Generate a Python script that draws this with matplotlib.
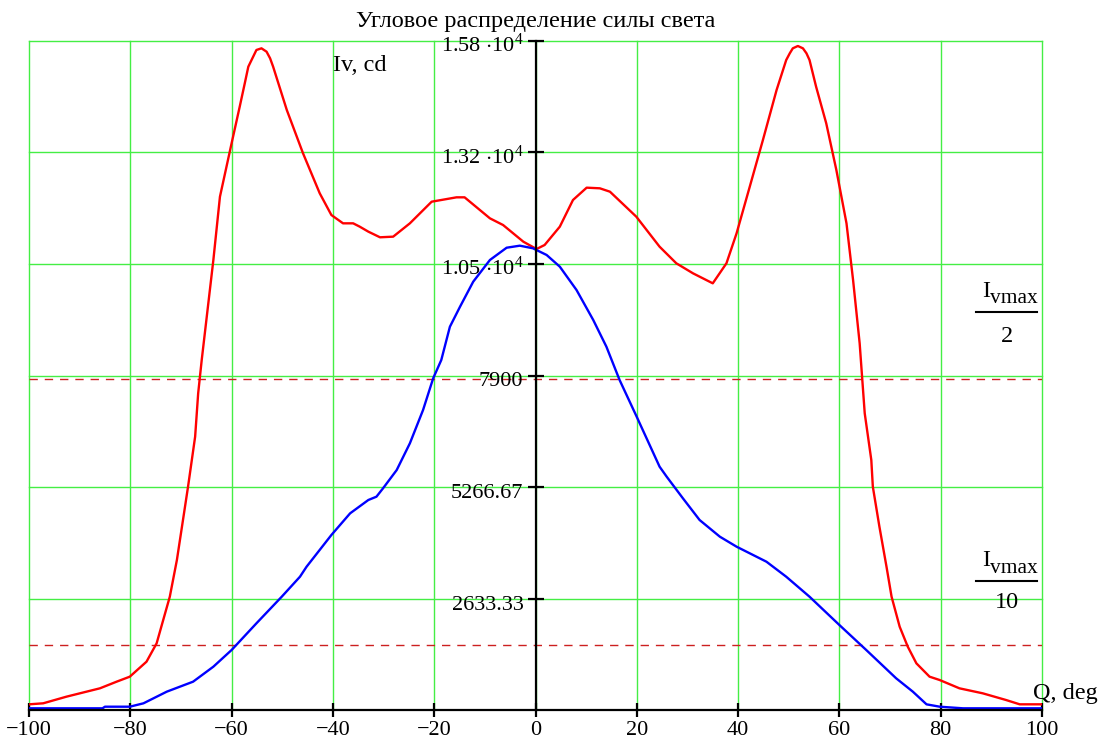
import matplotlib
matplotlib.use("Agg")
import matplotlib.pyplot as plt
from matplotlib.lines import Line2D
from matplotlib.transforms import ScaledTranslation

# ---------------- data ----------------
red_deg = [-100, -97.2, -92.6, -86.0, -82.7, -80.1, -76.8, -74.8, -73.5, -72.2, -70.8, -69.5,
           -68.6, -67.2, -66.6, -65.9, -63.6, -62.3, -60.0, -58.4, -57.4, -56.7, -55.1, -54.1,
           -53.1, -52.4, -51.8, -49.1,
           -45.9, -42.6, -40.3, -38.0, -36.0, -34.7, -33.0, -30.7, -28.1, -24.8, -20.5, -15.6,
           -14.0, -9.0, -6.4, -2.4, 0.2, 1.8, 4.8, 7.4, 10.1, 12.7, 14.7, 19.9, 24.5, 27.8,
           31.1, 35.0, 37.7, 39.7, 42.3, 44.9, 47.6, 49.5, 50.2, 50.8, 51.8, 52.8, 53.5, 54.1,
           55.4, 57.4, 59.4, 61.4,
           62.7, 64.0, 65.0, 66.3, 66.6, 67.9, 69.3, 70.3, 71.9, 73.5, 75.2, 77.8, 79.8, 83.7,
           88.3, 92.9, 95.6, 100]
red_cd = [134, 158, 315, 512, 669, 787, 1141, 1575, 2126, 2676, 3543, 4565,
          5274, 6455, 7479, 8266, 10628, 12123, 13384, 14248, 14800, 15193, 15588, 15627,
          15548, 15391, 15193, 14170,
          13148, 12203, 11690, 11494, 11494, 11415, 11297, 11164, 11179, 11494, 12005, 12108,
          12108, 11612, 11454, 11060, 10887, 10982, 11415, 12045, 12336, 12321, 12241, 11651, 10942, 10550,
          10313, 10077, 10550, 11258, 12359, 13462, 14643, 15351, 15509, 15627, 15682, 15627, 15509, 15351,
          14721, 13856, 12753, 11494,
          10155, 8660, 7007, 5904, 5274, 4329, 3384, 2676, 1967, 1495, 1102, 787, 708, 512,
          394, 236, 134, 134]

blue_deg = [-100, -85.5, -85.0, -80.1, -77.4, -72.8, -67.6, -63.6, -60.0, -55.1, -50.1, -46.5,
            -45.2, -40.3, -36.6, -33.0, -31.4, -30.1, -27.4, -24.8, -22.2, -20.2, -18.6, -16.9,
            -14.9, -12.3, -9.0, -5.7, -3.1, -0.5, 2.2, 4.8, 8.1, 11.4, 14.0, 16.6, 19.9, 24.5,
            25.9, 29.1, 32.4, 36.4, 39.7, 45.6, 49.5, 54.1, 60.0, 65.3, 71.2, 74.5, 77.2, 79.8,
            84.4, 100]
blue_cd = [40, 40, 78, 78, 158, 433, 669, 1023, 1417, 2047, 2676, 3148,
           3384, 4133, 4645, 4960, 5038, 5236, 5668, 6299, 7085, 7834, 8266, 9052,
           9525, 10115, 10628, 10918, 10966, 10904, 10746, 10470, 9919, 9211, 8580, 7794, 6947, 5746,
           5510, 5000, 4487, 4093, 3857, 3502, 3148, 2676, 2007, 1417, 749, 433, 134, 78,
           40, 40]

x_ticks = [-100, -80, -60, -40, -20, 0, 20, 40, 60, 80, 100]
x_labels = ["\u2212100", "\u221280", "\u221260", "\u221240", "\u221220", "0", "20", "40", "60", "80", "100"]
y_ticks = [2633.33, 5266.67, 7900, 10533.33, 13166.67, 15800]
y_labels = ["2633.33", "5266.67", "7900", r"1.05 $\cdot$10$^{4}$", r"1.32 $\cdot$10$^{4}$", r"1.58 $\cdot$10$^{4}$"]
half_level = 7810
tenth_level = 1530

title = "Угловое распределение силы света"

# ---------------- style ----------------
plt.rcParams['font.family'] = ['Liberation Serif', 'DejaVu Serif']
plt.rcParams['mathtext.fontset'] = 'custom'
plt.rcParams['mathtext.rm'] = 'Liberation Serif'
plt.rcParams['mathtext.it'] = 'Liberation Serif:italic'
plt.rcParams['mathtext.bf'] = 'Liberation Serif:bold'

FS = 16
grid_col = '#44ee44'

fig = plt.figure(figsize=(10.98, 7.40), dpi=100)
ax = fig.add_axes([29/1098, 1 - 710/740, (1042 - 29)/1098, (710 - 41)/740])
ax.set_xlim(-100, 100)
ax.set_ylim(0, 15800)

# grid
for xv in x_ticks:
    ax.axvline(xv, color=grid_col, lw=1.0, zorder=1, clip_on=False)
for yv in y_ticks:
    ax.axhline(yv, color=grid_col, lw=1.0, zorder=1, clip_on=False)

# level lines
ax.axhline(half_level, color='#cc2020', lw=1.0, ls=(0, (6, 5)), zorder=2)
ax.axhline(tenth_level, color='#cc2020', lw=1.0, ls=(0, (6, 5)), zorder=2)

# curves
ax.plot(red_deg, red_cd, color='#ff0000', lw=1.7, zorder=4)
ax.plot(blue_deg, blue_cd, color='#0000ff', lw=1.7, zorder=4)

# spines
for s in ['top', 'right']:
    ax.spines[s].set_visible(False)
ax.spines['left'].set_position(('data', 0))
ax.spines['left'].set_linewidth(1.6)
ax.spines['bottom'].set_linewidth(1.6)
ax.spines['left'].set_zorder(5)
ax.spines['bottom'].set_zorder(5)

ax.set_xticks(x_ticks)
ax.set_xticklabels(x_labels, fontsize=FS)
ax.tick_params(axis='x', direction='inout', length=10, width=1.6, pad=3)
ax.set_yticks(y_ticks)
ax.set_yticklabels([])
ax.tick_params(axis='y', direction='inout', length=12, width=1.6)

off = ScaledTranslation(-12/100, -11/100, fig.dpi_scale_trans)
for yv, lab in zip(y_ticks, y_labels):
    ax.text(0, yv, lab, ha='right', va='baseline', fontsize=FS,
            transform=ax.transData + off, zorder=6)

ax.set_title(title, fontsize=17.5, pad=10)

ax.text(0.300, 0.955, "Iv, cd", transform=ax.transAxes, fontsize=17.5, ha='left', va='baseline')
ax.text(0.991, 0.016, "Q, deg", transform=ax.transAxes, fontsize=17.5, ha='left', va='baseline')


def fraction(i_base, sub_base, line_y, den_base, den_text):
    ax.text(0.9405, i_base, "I", transform=ax.transAxes, fontsize=17.5,
            ha='left', va='baseline')
    ax.text(0.9482, sub_base, "vmax", transform=ax.transAxes, fontsize=15.5,
            ha='left', va='baseline')
    ax.add_line(Line2D([0.935, 0.995], [line_y, line_y], transform=ax.transAxes,
                       color='black', lw=1.5, clip_on=False))
    ax.text(0.9651, den_base, den_text, transform=ax.transAxes, fontsize=17.5,
            ha='center', va='baseline')


fraction(0.6178, 0.6080, 0.5945, 0.5501, "2")
fraction(0.2150, 0.2050, 0.1933, 0.1525, "10")

fig.savefig("out.png", dpi=100)
